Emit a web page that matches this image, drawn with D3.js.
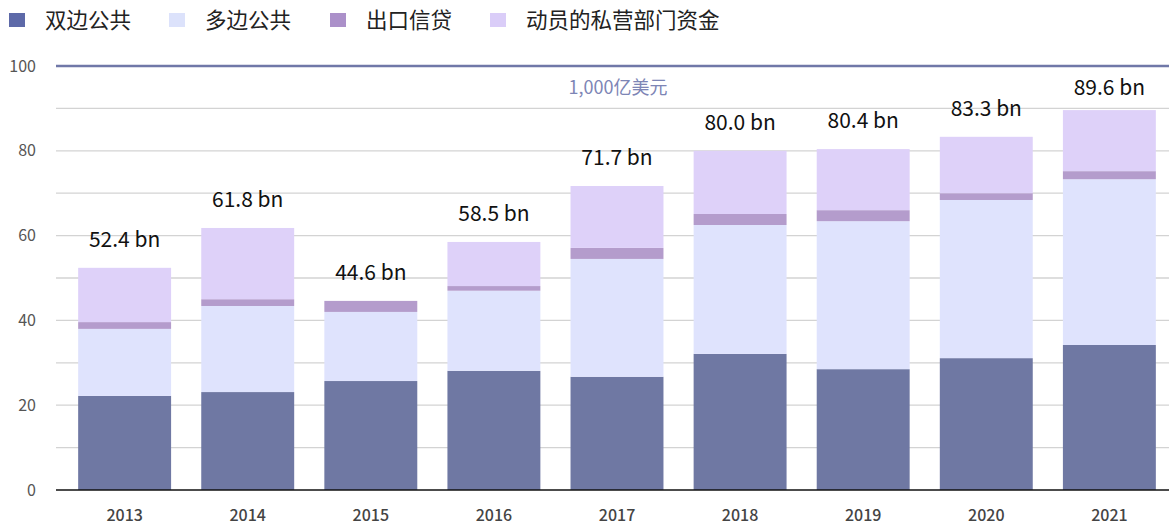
<!DOCTYPE html>
<html><head><meta charset="utf-8">
<script src="https://cdn.jsdelivr.net/npm/d3@7"></script>
<style>
body{margin:0;background:#fff;}
svg{font-family:"Noto Sans CJK SC","Noto Sans",sans-serif;}
</style></head>
<body><svg id="c" width="1169" height="525"></svg>
<script>
const years = ["2013","2014","2015","2016","2017","2018","2019","2020","2021"];
const bilateral = [22.2,23.1,25.7,28.1,26.7,32.1,28.5,31.1,34.2];
const multilateral = [15.8,20.3,16.3,18.9,27.8,30.4,34.9,37.3,39.1];
const exportCredit = [1.6,1.6,2.6,1.1,2.6,2.6,2.6,1.6,1.9];
const privateMob = [12.8,16.8,0.0,10.4,14.6,14.9,14.4,13.3,14.4];
const totals = [52.4,61.8,44.6,58.5,71.7,80.0,80.4,83.3,89.6];
const seriesNames = ["双边公共","多边公共","出口信贷","动员的私营部门资金"];
const yTicks = [0,20,40,60,80,100];
const targetValue = 100;
const targetLabel = "1,000亿美元";

const barColors = ["#6f78a3","#dfe3fd","#b49ccc","#ded1f9"];
const legendColors = ["#5d69a8","#dce2fb","#ab90c9","#dacdf8"];

const svg = d3.select("#c");
const mLeft = 56, mRight = 1169, mTop = 66, mBottom = 490;
const x = d3.scaleBand().domain(years).range([mLeft, 1178]).paddingInner(0.245).paddingOuter(0.18);
const y = d3.scaleLinear().domain([0,100]).range([mBottom, mTop]);

// gridlines every 10
svg.append("g").selectAll("line").data(d3.range(10, 100, 10)).join("line")
  .attr("x1", mLeft).attr("x2", mRight)
  .attr("y1", d => y(d)).attr("y2", d => y(d))
  .attr("stroke", "#d3d3d3").attr("stroke-width", 1.3);

// stacked bars
const table = years.map((yr,i)=>({year:yr, s0:bilateral[i], s1:multilateral[i], s2:exportCredit[i], s3:privateMob[i]}));
const stack = d3.stack().keys(["s0","s1","s2","s3"])(table);
svg.append("g").selectAll("g").data(stack).join("g")
  .attr("fill", (d,i)=>barColors[i])
  .selectAll("rect").data(d=>d).join("rect")
  .attr("x", d=>x(d.data.year)).attr("width", x.bandwidth())
  .attr("y", d=>y(d[1])).attr("height", d=>y(d[0])-y(d[1]));

// baseline
svg.append("line").attr("x1", mLeft).attr("x2", mRight).attr("y1", y(0)).attr("y2", y(0))
  .attr("stroke", "#111").attr("stroke-width", 1.5);

// target line
svg.append("line").attr("x1", mLeft).attr("x2", mRight).attr("y1", y(targetValue)).attr("y2", y(targetValue))
  .attr("stroke", "#7078a8").attr("stroke-width", 2.5);
svg.append("text").attr("x", 618).attr("y", y(targetValue)+28).attr("text-anchor","middle")
  .attr("font-size", 18).attr("fill", "#7d85b5").text(targetLabel);

// y axis labels
const yAxis = d3.axisLeft(y).tickValues(yTicks).tickSize(0).tickPadding(20);
const ya = svg.append("g").attr("transform", `translate(${mLeft},0)`).call(yAxis);
ya.select(".domain").remove();
ya.selectAll("text").attr("font-size", 16).attr("fill", "#555").attr("font-family", "Noto Sans CJK SC");

// x axis labels
const xAxis = d3.axisBottom(x).tickSize(0).tickPadding(20);
const xa = svg.append("g").attr("transform", `translate(0,${mBottom})`).call(xAxis);
xa.select(".domain").remove();
xa.selectAll("text").attr("font-size", 16).attr("fill", "#444").attr("font-weight", 500).attr("font-family", "Noto Sans CJK SC");

// total labels
svg.append("g").selectAll("text").data(years).join("text")
  .attr("x", d=>x(d)+x.bandwidth()/2)
  .attr("y", (d,i)=>Math.max(y(totals[i])-21, y(targetValue)+29))
  .attr("text-anchor","middle").attr("font-size", 21).attr("fill","#111")
  .text((d,i)=>totals[i].toFixed(1)+" bn");

// legend
const legX = [9, 169, 330, 490];
const lg = svg.append("g").selectAll("g").data(seriesNames).join("g")
  .attr("transform",(d,i)=>`translate(${legX[i]},0)`);
lg.append("rect").attr("x",0).attr("y",13).attr("width",16).attr("height",14)
  .attr("fill",(d,i)=>legendColors[i]);
lg.append("text").attr("x",36).attr("y",28).attr("font-size",21.5).attr("fill","#222")
  .attr("font-family","Noto Sans CJK SC").text(d=>d);
</script></body></html>
